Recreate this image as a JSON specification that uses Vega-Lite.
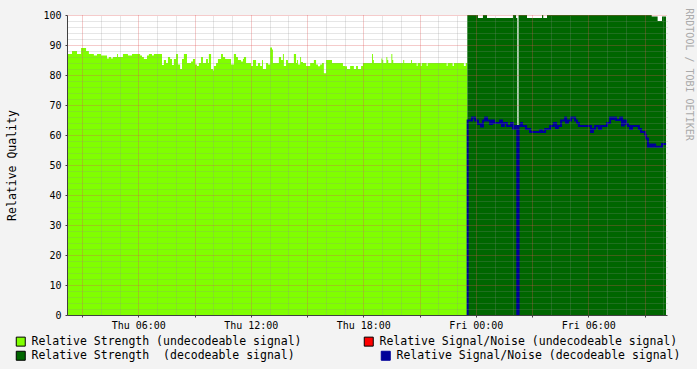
{
  "$schema": "https://vega.github.io/schema/vega-lite/v6.json",
  "width": 600,
  "height": 300,
  "autosize": {"type": "none"},
  "padding": {"left": 67, "top": 15, "right": 30, "bottom": 54},
  "background": "#F3F3F3",
  "config": {
    "view": {"fill": "#FFFFFF", "stroke": null},
    "font": "DejaVu Sans Mono"
  },
  "data": {
    "values": [
      {"s":"lu","t":"2024-01-04T02:12","v":87},
      {"s":"lu","t":"2024-01-04T02:28","v":88},
      {"s":"lu","t":"2024-01-04T02:44","v":87},
      {"s":"lu","t":"2024-01-04T02:57","v":89},
      {"s":"lu","t":"2024-01-04T03:13","v":88},
      {"s":"lu","t":"2024-01-04T03:22","v":87},
      {"s":"lu","t":"2024-01-04T03:38","v":86.5},
      {"s":"lu","t":"2024-01-04T03:48","v":87},
      {"s":"lu","t":"2024-01-04T04:01","v":86.5},
      {"s":"lu","t":"2024-01-04T04:20","v":85.5},
      {"s":"lu","t":"2024-01-04T04:26","v":86},
      {"s":"lu","t":"2024-01-04T04:33","v":85.5},
      {"s":"lu","t":"2024-01-04T04:39","v":86},
      {"s":"lu","t":"2024-01-04T04:52","v":87},
      {"s":"lu","t":"2024-01-04T04:55","v":86},
      {"s":"lu","t":"2024-01-04T05:11","v":87},
      {"s":"lu","t":"2024-01-04T05:27","v":86.5},
      {"s":"lu","t":"2024-01-04T05:40","v":87},
      {"s":"lu","t":"2024-01-04T06:06","v":86.5},
      {"s":"lu","t":"2024-01-04T06:12","v":86},
      {"s":"lu","t":"2024-01-04T06:18","v":85.3},
      {"s":"lu","t":"2024-01-04T06:28","v":86.5},
      {"s":"lu","t":"2024-01-04T06:34","v":87},
      {"s":"lu","t":"2024-01-04T06:44","v":86.5},
      {"s":"lu","t":"2024-01-04T06:50","v":87},
      {"s":"lu","t":"2024-01-04T07:16","v":83.3},
      {"s":"lu","t":"2024-01-04T07:22","v":85},
      {"s":"lu","t":"2024-01-04T07:29","v":84},
      {"s":"lu","t":"2024-01-04T07:35","v":86},
      {"s":"lu","t":"2024-01-04T07:42","v":85.3},
      {"s":"lu","t":"2024-01-04T07:48","v":83.3},
      {"s":"lu","t":"2024-01-04T07:54","v":85.3},
      {"s":"lu","t":"2024-01-04T08:01","v":87},
      {"s":"lu","t":"2024-01-04T08:07","v":83.5},
      {"s":"lu","t":"2024-01-04T08:14","v":82},
      {"s":"lu","t":"2024-01-04T08:20","v":85.3},
      {"s":"lu","t":"2024-01-04T08:26","v":87},
      {"s":"lu","t":"2024-01-04T08:36","v":84},
      {"s":"lu","t":"2024-01-04T08:49","v":84.5},
      {"s":"lu","t":"2024-01-04T08:55","v":85.3},
      {"s":"lu","t":"2024-01-04T09:02","v":83.5},
      {"s":"lu","t":"2024-01-04T09:08","v":83},
      {"s":"lu","t":"2024-01-04T09:14","v":84},
      {"s":"lu","t":"2024-01-04T09:21","v":86},
      {"s":"lu","t":"2024-01-04T09:27","v":84},
      {"s":"lu","t":"2024-01-04T09:37","v":85.3},
      {"s":"lu","t":"2024-01-04T09:43","v":84},
      {"s":"lu","t":"2024-01-04T09:46","v":87},
      {"s":"lu","t":"2024-01-04T09:53","v":82},
      {"s":"lu","t":"2024-01-04T09:59","v":81.5},
      {"s":"lu","t":"2024-01-04T10:02","v":83},
      {"s":"lu","t":"2024-01-04T10:09","v":84},
      {"s":"lu","t":"2024-01-04T10:15","v":85.3},
      {"s":"lu","t":"2024-01-04T10:25","v":87},
      {"s":"lu","t":"2024-01-04T10:31","v":86},
      {"s":"lu","t":"2024-01-04T10:38","v":85.3},
      {"s":"lu","t":"2024-01-04T10:57","v":83.5},
      {"s":"lu","t":"2024-01-04T11:06","v":87},
      {"s":"lu","t":"2024-01-04T11:13","v":86},
      {"s":"lu","t":"2024-01-04T11:19","v":85},
      {"s":"lu","t":"2024-01-04T11:29","v":84.5},
      {"s":"lu","t":"2024-01-04T11:35","v":85.3},
      {"s":"lu","t":"2024-01-04T11:38","v":86},
      {"s":"lu","t":"2024-01-04T11:45","v":84},
      {"s":"lu","t":"2024-01-04T12:01","v":83},
      {"s":"lu","t":"2024-01-04T12:07","v":85},
      {"s":"lu","t":"2024-01-04T12:17","v":83},
      {"s":"lu","t":"2024-01-04T12:23","v":84},
      {"s":"lu","t":"2024-01-04T12:30","v":83},
      {"s":"lu","t":"2024-01-04T12:36","v":85},
      {"s":"lu","t":"2024-01-04T12:39","v":82},
      {"s":"lu","t":"2024-01-04T12:49","v":84},
      {"s":"lu","t":"2024-01-04T12:55","v":83.5},
      {"s":"lu","t":"2024-01-04T13:02","v":89.2},
      {"s":"lu","t":"2024-01-04T13:08","v":88.5},
      {"s":"lu","t":"2024-01-04T13:11","v":84},
      {"s":"lu","t":"2024-01-04T13:30","v":86},
      {"s":"lu","t":"2024-01-04T13:37","v":85},
      {"s":"lu","t":"2024-01-04T13:43","v":87},
      {"s":"lu","t":"2024-01-04T13:46","v":83},
      {"s":"lu","t":"2024-01-04T13:53","v":85},
      {"s":"lu","t":"2024-01-04T13:59","v":84},
      {"s":"lu","t":"2024-01-04T14:18","v":87},
      {"s":"lu","t":"2024-01-04T14:25","v":84},
      {"s":"lu","t":"2024-01-04T14:28","v":85},
      {"s":"lu","t":"2024-01-04T14:31","v":83.5},
      {"s":"lu","t":"2024-01-04T14:38","v":86},
      {"s":"lu","t":"2024-01-04T14:41","v":84.3},
      {"s":"lu","t":"2024-01-04T14:47","v":84},
      {"s":"lu","t":"2024-01-04T14:57","v":83},
      {"s":"lu","t":"2024-01-04T15:10","v":84},
      {"s":"lu","t":"2024-01-04T15:22","v":85},
      {"s":"lu","t":"2024-01-04T15:29","v":83.5},
      {"s":"lu","t":"2024-01-04T15:35","v":82.9},
      {"s":"lu","t":"2024-01-04T15:42","v":83.5},
      {"s":"lu","t":"2024-01-04T15:48","v":84},
      {"s":"lu","t":"2024-01-04T15:54","v":80.6},
      {"s":"lu","t":"2024-01-04T16:01","v":85},
      {"s":"lu","t":"2024-01-04T16:20","v":84},
      {"s":"lu","t":"2024-01-04T16:55","v":83},
      {"s":"lu","t":"2024-01-04T17:02","v":82.9},
      {"s":"lu","t":"2024-01-04T17:08","v":82},
      {"s":"lu","t":"2024-01-04T17:18","v":83},
      {"s":"lu","t":"2024-01-04T17:30","v":82},
      {"s":"lu","t":"2024-01-04T17:37","v":83},
      {"s":"lu","t":"2024-01-04T17:43","v":82},
      {"s":"lu","t":"2024-01-04T17:53","v":83},
      {"s":"lu","t":"2024-01-04T17:59","v":84},
      {"s":"lu","t":"2024-01-04T18:28","v":87},
      {"s":"lu","t":"2024-01-04T18:31","v":85},
      {"s":"lu","t":"2024-01-04T18:34","v":84},
      {"s":"lu","t":"2024-01-04T18:58","v":85.5},
      {"s":"lu","t":"2024-01-04T19:01","v":85},
      {"s":"lu","t":"2024-01-04T19:04","v":84},
      {"s":"lu","t":"2024-01-04T19:14","v":86},
      {"s":"lu","t":"2024-01-04T19:17","v":85},
      {"s":"lu","t":"2024-01-04T19:20","v":84},
      {"s":"lu","t":"2024-01-04T19:30","v":87},
      {"s":"lu","t":"2024-01-04T19:33","v":85},
      {"s":"lu","t":"2024-01-04T19:36","v":84},
      {"s":"lu","t":"2024-01-04T20:08","v":85},
      {"s":"lu","t":"2024-01-04T20:11","v":84},
      {"s":"lu","t":"2024-01-04T20:33","v":85},
      {"s":"lu","t":"2024-01-04T20:36","v":84},
      {"s":"lu","t":"2024-01-04T20:51","v":83},
      {"s":"lu","t":"2024-01-04T20:54","v":84},
      {"s":"lu","t":"2024-01-04T21:04","v":83},
      {"s":"lu","t":"2024-01-04T21:07","v":84},
      {"s":"lu","t":"2024-01-04T21:23","v":83},
      {"s":"lu","t":"2024-01-04T21:26","v":84},
      {"s":"lu","t":"2024-01-04T22:27","v":83},
      {"s":"lu","t":"2024-01-04T22:30","v":84},
      {"s":"lu","t":"2024-01-04T22:46","v":83},
      {"s":"lu","t":"2024-01-04T22:50","v":84},
      {"s":"lu","t":"2024-01-04T23:22","v":83},
      {"s":"lu","t":"2024-01-04T23:28","v":84},
      {"s":"lu","t":"2024-01-04T23:33","v":84},
      {"s":"sd","t":"2024-01-04T23:33","v":100},
      {"s":"sd","t":"2024-01-05T00:07","v":99},
      {"s":"sd","t":"2024-01-05T00:23","v":100},
      {"s":"sd","t":"2024-01-05T00:36","v":99},
      {"s":"sd","t":"2024-01-05T01:59","v":100},
      {"s":"sd","t":"2024-01-05T02:09","v":99},
      {"s":"sd","t":"2024-01-05T02:13","v":0},
      {"s":"sd","t":"2024-01-05T02:17","v":100},
      {"s":"sd","t":"2024-01-05T02:44","v":99},
      {"s":"sd","t":"2024-01-05T03:32","v":100},
      {"s":"sd","t":"2024-01-05T03:36","v":99},
      {"s":"sd","t":"2024-01-05T03:48","v":100},
      {"s":"sd","t":"2024-01-05T09:23","v":99.5},
      {"s":"sd","t":"2024-01-05T09:42","v":98},
      {"s":"sd","t":"2024-01-05T09:56","v":99.5},
      {"s":"sd","t":"2024-01-05T10:09","v":99.5},
      {"s":"nd","t":"2024-01-04T23:33","v":0},
      {"s":"nd","t":"2024-01-04T23:34","v":64.8},
      {"s":"nd","t":"2024-01-04T23:48","v":65.8},
      {"s":"nd","t":"2024-01-04T23:58","v":64.8},
      {"s":"nd","t":"2024-01-05T00:07","v":63.7},
      {"s":"nd","t":"2024-01-05T00:17","v":62.8},
      {"s":"nd","t":"2024-01-05T00:23","v":64.8},
      {"s":"nd","t":"2024-01-05T00:30","v":65.8},
      {"s":"nd","t":"2024-01-05T00:36","v":64.8},
      {"s":"nd","t":"2024-01-05T00:46","v":63.7},
      {"s":"nd","t":"2024-01-05T00:52","v":64.8},
      {"s":"nd","t":"2024-01-05T00:58","v":64},
      {"s":"nd","t":"2024-01-05T01:18","v":64.8},
      {"s":"nd","t":"2024-01-05T01:24","v":63},
      {"s":"nd","t":"2024-01-05T01:30","v":64},
      {"s":"nd","t":"2024-01-05T01:40","v":63},
      {"s":"nd","t":"2024-01-05T01:53","v":64},
      {"s":"nd","t":"2024-01-05T01:59","v":62.1},
      {"s":"nd","t":"2024-01-05T02:06","v":63},
      {"s":"nd","t":"2024-01-05T02:13","v":0},
      {"s":"nd","t":"2024-01-05T02:17","v":63},
      {"s":"nd","t":"2024-01-05T02:25","v":64},
      {"s":"nd","t":"2024-01-05T02:28","v":63},
      {"s":"nd","t":"2024-01-05T02:41","v":62},
      {"s":"nd","t":"2024-01-05T02:54","v":61},
      {"s":"nd","t":"2024-01-05T03:26","v":61.6},
      {"s":"nd","t":"2024-01-05T03:32","v":61},
      {"s":"nd","t":"2024-01-05T03:42","v":62},
      {"s":"nd","t":"2024-01-05T03:58","v":63},
      {"s":"nd","t":"2024-01-05T04:10","v":64},
      {"s":"nd","t":"2024-01-05T04:17","v":62.3},
      {"s":"nd","t":"2024-01-05T04:23","v":63},
      {"s":"nd","t":"2024-01-05T04:33","v":64.8},
      {"s":"nd","t":"2024-01-05T04:46","v":65.8},
      {"s":"nd","t":"2024-01-05T04:49","v":64.1},
      {"s":"nd","t":"2024-01-05T04:55","v":64.8},
      {"s":"nd","t":"2024-01-05T05:05","v":65.8},
      {"s":"nd","t":"2024-01-05T05:18","v":64.8},
      {"s":"nd","t":"2024-01-05T05:24","v":64},
      {"s":"nd","t":"2024-01-05T05:30","v":63},
      {"s":"nd","t":"2024-01-05T06:09","v":61},
      {"s":"nd","t":"2024-01-05T06:15","v":62},
      {"s":"nd","t":"2024-01-05T06:22","v":63},
      {"s":"nd","t":"2024-01-05T06:34","v":62},
      {"s":"nd","t":"2024-01-05T06:41","v":63},
      {"s":"nd","t":"2024-01-05T07:00","v":64},
      {"s":"nd","t":"2024-01-05T07:10","v":65.8},
      {"s":"nd","t":"2024-01-05T07:16","v":65.3},
      {"s":"nd","t":"2024-01-05T07:22","v":65.8},
      {"s":"nd","t":"2024-01-05T07:29","v":65},
      {"s":"nd","t":"2024-01-05T07:42","v":65.8},
      {"s":"nd","t":"2024-01-05T07:48","v":63.2},
      {"s":"nd","t":"2024-01-05T07:54","v":64.8},
      {"s":"nd","t":"2024-01-05T08:01","v":63.7},
      {"s":"nd","t":"2024-01-05T08:07","v":63},
      {"s":"nd","t":"2024-01-05T08:14","v":62},
      {"s":"nd","t":"2024-01-05T08:20","v":63},
      {"s":"nd","t":"2024-01-05T08:42","v":62},
      {"s":"nd","t":"2024-01-05T08:49","v":61},
      {"s":"nd","t":"2024-01-05T09:02","v":60},
      {"s":"nd","t":"2024-01-05T09:05","v":58.8},
      {"s":"nd","t":"2024-01-05T09:11","v":56.1},
      {"s":"nd","t":"2024-01-05T09:18","v":56.8},
      {"s":"nd","t":"2024-01-05T09:21","v":56.1},
      {"s":"nd","t":"2024-01-05T09:27","v":56.8},
      {"s":"nd","t":"2024-01-05T09:34","v":56.1},
      {"s":"nd","t":"2024-01-05T09:56","v":57},
      {"s":"nd","t":"2024-01-05T10:09","v":57}
    ]
  },
  "layer": [
    {
      "transform": [{"filter": "datum.s == 'lu' || datum.s == 'sd'"}],
      "mark": {"type": "area", "interpolate": "step-after", "opacity": 1},
      "encoding": {
        "x": {
          "field": "t", "type": "temporal",
          "scale": {"domain": [
            {"year": 2024, "month": 1, "date": 4, "hours": 2, "minutes": 12},
            {"year": 2024, "month": 1, "date": 5, "hours": 10, "minutes": 12}
          ]},
          "axis": {
            "orient": "bottom",
            "values": [
              {"year": 2024, "month": 1, "date": 4, "hours": 3},
              {"year": 2024, "month": 1, "date": 4, "hours": 6},
              {"year": 2024, "month": 1, "date": 4, "hours": 9},
              {"year": 2024, "month": 1, "date": 4, "hours": 12},
              {"year": 2024, "month": 1, "date": 4, "hours": 15},
              {"year": 2024, "month": 1, "date": 4, "hours": 18},
              {"year": 2024, "month": 1, "date": 4, "hours": 21},
              {"year": 2024, "month": 1, "date": 5, "hours": 0},
              {"year": 2024, "month": 1, "date": 5, "hours": 3},
              {"year": 2024, "month": 1, "date": 5, "hours": 6},
              {"year": 2024, "month": 1, "date": 5, "hours": 9}
            ],
            "labelExpr": "hours(datum.value) % 6 == 0 ? timeFormat(datum.value, '%a %H:%M') : ''",
            "labelFont": "DejaVu Sans Mono", "labelFontSize": 10, "labelColor": "#000000",
            "labelPadding": 3, "labelOverlap": false, "labelFlush": false,
            "tickSize": 2, "tickColor": "#404040",
            "domainColor": "#404040",
            "grid": true, "gridColor": "#DE5050", "gridOpacity": 0.6, "gridDash": [1, 1], "gridWidth": 1,
            "title": null, "zindex": 1
          }
        },
        "y": {
          "field": "v", "type": "quantitative", "stack": null,
          "scale": {"domain": [0, 100], "nice": false, "zero": true},
          "axis": {
            "orient": "left",
            "values": [0, 10, 20, 30, 40, 50, 60, 70, 80, 90, 100],
            "labelFont": "DejaVu Sans Mono", "labelFontSize": 10, "labelColor": "#000000",
            "labelPadding": 4, "tickSize": 2, "tickColor": "#404040",
            "domainColor": "#404040",
            "grid": true, "gridColor": "#DE5050", "gridOpacity": 0.6, "gridDash": [1, 1], "gridWidth": 1,
            "title": "Relative Quality",
            "titleFont": "DejaVu Sans Mono", "titleFontSize": 11.5, "titleFontWeight": "normal", "titleColor": "#000000",
            "titleAngle": -90, "titleX": -55, "titleY": 150, "titleAlign": "center", "titleBaseline": "middle",
            "zindex": 1
          }
        },
        "fill": {
          "field": "s", "type": "nominal",
          "scale": {"domain": ["lu", "sd", "ru"], "range": ["#80FF00", "#006600", "#FF0000"]},
          "legend": {
            "orient": "none", "legendX": -52, "legendY": 320.5,
            "columns": 2, "title": null, "padding": 0,
            "symbolType": "square", "symbolSize": 81,
            "symbolStrokeColor": "#000000", "symbolStrokeWidth": 1,
            "labelFont": "DejaVu Sans Mono", "labelFontSize": 11.5, "labelColor": "#000000",
            "labelLimit": 400, "labelOffset": 5, "columnPadding": 60, "rowPadding": 0.5,
            "labelExpr": "datum.value == 'lu' ? 'Relative Strength (undecodeable signal)' : datum.value == 'ru' ? 'Relative Signal/Noise (undecodeable signal)' : 'Relative Strength \u00a0(decodeable signal)'"
          }
        }
      }
    },
    {
      "transform": [{"filter": "datum.s == 'nd'"}],
      "mark": {"type": "line", "interpolate": "step-after", "strokeWidth": 2},
      "encoding": {
        "x": {
          "field": "t", "type": "temporal",
          "axis": {
            "orient": "top",
            "values": [
              {"year": 2024, "month": 1, "date": 4, "hours": 4},
              {"year": 2024, "month": 1, "date": 4, "hours": 5},
              {"year": 2024, "month": 1, "date": 4, "hours": 7},
              {"year": 2024, "month": 1, "date": 4, "hours": 8},
              {"year": 2024, "month": 1, "date": 4, "hours": 10},
              {"year": 2024, "month": 1, "date": 4, "hours": 11},
              {"year": 2024, "month": 1, "date": 4, "hours": 13},
              {"year": 2024, "month": 1, "date": 4, "hours": 14},
              {"year": 2024, "month": 1, "date": 4, "hours": 16},
              {"year": 2024, "month": 1, "date": 4, "hours": 17},
              {"year": 2024, "month": 1, "date": 4, "hours": 19},
              {"year": 2024, "month": 1, "date": 4, "hours": 20},
              {"year": 2024, "month": 1, "date": 4, "hours": 22},
              {"year": 2024, "month": 1, "date": 4, "hours": 23},
              {"year": 2024, "month": 1, "date": 5, "hours": 1},
              {"year": 2024, "month": 1, "date": 5, "hours": 2},
              {"year": 2024, "month": 1, "date": 5, "hours": 4},
              {"year": 2024, "month": 1, "date": 5, "hours": 5},
              {"year": 2024, "month": 1, "date": 5, "hours": 7},
              {"year": 2024, "month": 1, "date": 5, "hours": 8},
              {"year": 2024, "month": 1, "date": 5, "hours": 10}
            ],
            "labels": false, "ticks": false, "domain": false, "title": null,
            "grid": true, "gridColor": "#8F8F8F", "gridOpacity": 0.45, "gridDash": [1, 1], "gridWidth": 1,
            "zindex": 1
          }
        },
        "y": {
          "field": "v", "type": "quantitative",
          "axis": {
            "orient": "right",
            "values": [2, 4, 6, 8, 12, 14, 16, 18, 22, 24, 26, 28, 32, 34, 36, 38, 42, 44, 46, 48, 52, 54, 56, 58, 62, 64, 66, 68, 72, 74, 76, 78, 82, 84, 86, 88, 92, 94, 96, 98],
            "labels": false, "ticks": false, "domain": false,
            "grid": true, "gridColor": "#8F8F8F", "gridOpacity": 0.45, "gridDash": [1, 1], "gridWidth": 1,
            "title": "RRDTOOL / TOBI OETIKER",
            "titleFont": "DejaVu Sans Mono", "titleFontSize": 10, "titleFontWeight": "normal", "titleColor": "#AAAAAA",
            "titleAngle": 90, "titleX": 21, "titleY": 59, "titleAlign": "center", "titleBaseline": "middle",
            "zindex": 1
          }
        },
        "stroke": {
          "field": "s", "type": "nominal",
          "scale": {"domain": ["nd"], "range": ["#000099"]},
          "legend": {
            "orient": "none", "legendX": 313, "legendY": 335,
            "title": null, "padding": 0,
            "symbolType": "square", "symbolSize": 81,
            "symbolFillColor": "#000099", "symbolStrokeColor": "#000000", "symbolStrokeWidth": 1,
            "labelFont": "DejaVu Sans Mono", "labelFontSize": 11.5, "labelColor": "#000000",
            "labelLimit": 400, "labelOffset": 5,
            "labelExpr": "'Relative Signal/Noise (decodeable signal)'"
          }
        }
      }
    }
  ],
  "resolve": {"axis": {"x": "independent", "y": "independent"}}
}
